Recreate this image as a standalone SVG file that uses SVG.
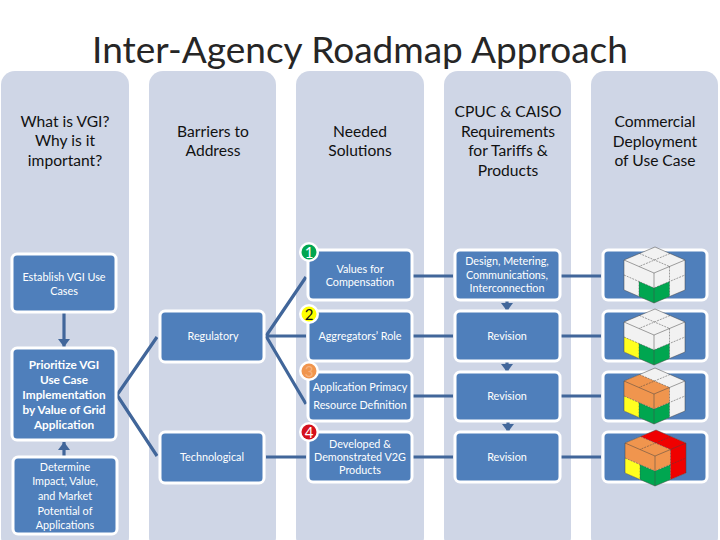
<svg xmlns="http://www.w3.org/2000/svg" xmlns:xlink="http://www.w3.org/1999/xlink" width="720" height="540" viewBox="0 0 720 540">
<style>
text{font-family:Lato,"Open Sans","Liberation Sans",sans-serif;text-anchor:middle}
.title{font-size:37px;fill:#262626}
.head{font-size:15.600px;fill:#111}
.panel{fill:#cfd6e6}
.box{fill:#4f7fbb;stroke:#fff;stroke-width:3}
.t{font-size:10.800px;fill:#fff}
.b{font-size:11.800px;font-weight:700;fill:#fff}
.c{stroke:#41669a;stroke-width:3.200;fill:none}
.w{fill:#f2f2f2}.g{fill:#00a650}.y{fill:#ffff20}.o{fill:#f0954e}.r{fill:#f00000}
.e{fill:none;stroke:#444;stroke-width:.5;stroke-dasharray:2 1}
.f{fill:none;stroke:#444;stroke-width:.5}
.ring{fill:#fff}
.n{font-size:15px}
</style>
<defs>
<marker id="ah" markerUnits="userSpaceOnUse" markerWidth="12" markerHeight="12" refX="8" refY="6" orient="auto"><path d="M0 0L8 6L0 12Z" fill="#41669a"/></marker>
<g id="cube">
<path class="f" d="M624 260L655 247L685 260V290L654 303L624 290ZM624 260L654 273L685 260M654 273V303"/>
<path class="e" d="M639.500 253.500L669.500 266.500M670 253.500L639 266.500M624 275L654 288L685 275M639 281.500V296.500M669.500 266.500V296.500"/>
</g>
</defs>
<rect width="720" height="540" fill="#fff"/>
<text class="title" x="360" y="63">Inter-Agency Roadmap Approach</text>
<g id="panels">
<rect class="panel" x="1" y="71" width="128" height="480" rx="14"/>
<rect class="panel" x="149" y="71" width="127" height="480" rx="14"/>
<rect class="panel" x="296" y="71" width="128" height="480" rx="14"/>
<rect class="panel" x="444" y="71" width="127" height="480" rx="14"/>
<rect class="panel" x="591" y="71" width="127" height="480" rx="14"/>
</g>
<g id="headers">
<text class="head"><tspan x="65" y="127">What is VGI?</tspan><tspan x="65" y="146">Why is it</tspan><tspan x="65" y="166">important?</tspan></text>
<text class="head"><tspan x="213" y="137">Barriers to</tspan><tspan x="213" y="156">Address</tspan></text>
<text class="head"><tspan x="360" y="137">Needed</tspan><tspan x="360" y="156">Solutions</tspan></text>
<text class="head"><tspan x="508" y="117">CPUC &amp; CAISO</tspan><tspan x="508" y="137">Requirements</tspan><tspan x="508" y="156">for Tariffs &amp;</tspan><tspan x="508" y="176">Products</tspan></text>
<text class="head"><tspan x="655" y="127">Commercial</tspan><tspan x="655" y="147">Deployment</tspan><tspan x="655" y="166">of Use Case</tspan></text>
</g>
<g id="connectors">
<path class="c" d="M117 395L157 337M117 395L157 456M266 336L306 277M266 336H306M266 336L306 404M266 457H306"/>
<path class="c" d="M412 276H453M412 336H453M412 396H453M412 457H453M560 276H601M560 336H601M560 396H601M560 457H601"/>
<path class="c" marker-end="url(#ah)" d="M64 313V347"/>
<path class="c" marker-end="url(#ah)" d="M64 456V442"/>
<path class="c" marker-end="url(#ah)" d="M507 301V311"/>
<path class="c" marker-end="url(#ah)" d="M507 361V372"/>
<path class="c" marker-end="url(#ah)" d="M508 421V432"/>
</g>
<g id="n-establish"><rect class="box" x="12" y="254" width="104" height="58" rx="5"/><text class="t"><tspan x="64" y="281">Establish VGI Use</tspan><tspan x="64" y="295">Cases</tspan></text></g>
<g id="n-prioritize"><rect class="box" x="12" y="348" width="104" height="92" rx="5"/><text class="b"><tspan x="64" y="369">Prioritize VGI</tspan><tspan x="64" y="384">Use Case</tspan><tspan x="64" y="399">Implementation</tspan><tspan x="64" y="414">by Value of Grid</tspan><tspan x="64" y="429">Application</tspan></text></g>
<g id="n-determine"><rect class="box" x="13" y="457" width="104" height="77" rx="5"/><text class="t"><tspan x="65" y="471">Determine</tspan><tspan x="65" y="485">Impact, Value,</tspan><tspan x="65" y="500">and Market</tspan><tspan x="65" y="515">Potential of</tspan><tspan x="65" y="529">Applications</tspan></text></g>
<g id="n-regulatory"><rect class="box" x="160" y="311" width="104" height="51" rx="5"/><text class="t" x="213" y="340">Regulatory</text></g>
<g id="n-technological"><rect class="box" x="160" y="432" width="104" height="51" rx="5"/><text class="t" x="212" y="461">Technological</text></g>
<g id="n-values"><rect class="box" x="308" y="250" width="104" height="50" rx="5"/><text class="t"><tspan x="360" y="273">Values for</tspan><tspan x="360" y="286">Compensation</tspan></text></g>
<g id="n-aggregators"><rect class="box" x="308" y="311" width="104" height="50" rx="5"/><text class="t" x="360" y="340">Aggregators’ Role</text></g>
<g id="n-application"><rect class="box" x="308" y="372" width="104" height="49" rx="5"/><text class="t"><tspan x="360" y="391">Application Primacy</tspan><tspan x="360" y="409">Resource Definition</tspan></text></g>
<g id="n-developed"><rect class="box" x="308" y="432" width="104" height="50" rx="5"/><text class="t"><tspan x="360" y="448">Developed  &amp;</tspan><tspan x="360" y="461">Demonstrated V2G</tspan><tspan x="360" y="474">Products</tspan></text></g>
<g id="n-design"><rect class="box" x="455" y="250" width="105" height="50" rx="5"/><text class="t"><tspan x="507" y="265">Design, Metering,</tspan><tspan x="507" y="279">Communications,</tspan><tspan x="507" y="292">Interconnection</tspan></text></g>
<g id="n-rev1"><rect class="box" x="455" y="311" width="105" height="50" rx="5"/><text class="t" x="507" y="340">Revision</text></g>
<g id="n-rev2"><rect class="box" x="455" y="372" width="105" height="49" rx="5"/><text class="t" x="507" y="400">Revision</text></g>
<g id="n-rev3"><rect class="box" x="455" y="432" width="105" height="50" rx="5"/><text class="t" x="507" y="461">Revision</text></g>
<g id="n-cube1"><rect class="box" x="603" y="250" width="104" height="50" rx="5"/>
<path class="w" d="M624 260L655 247L685 260V290L654 303L624 290Z"/>
<path class="g" d="M639 281.500L654 288L669.500 281.500V296.500L654 303L639 296.500Z"/>
<use xlink:href="#cube"/></g>
<g id="n-cube2"><rect class="box" x="603" y="311" width="104" height="50" rx="5"/>
<g transform="translate(0 62)"><path class="w" d="M624 260L655 247L685 260V290L654 303L624 290Z"/>
<path class="g" d="M639 281.500L654 288L669.500 281.500V296.500L654 303L639 296.500Z"/>
<path class="y" d="M624 275L639 281.500V296.500L624 290Z"/>
<use xlink:href="#cube"/></g></g>
<g id="n-cube3"><rect class="box" x="603" y="372" width="104" height="49" rx="5"/>
<g transform="translate(0 121)"><path class="w" d="M624 260L655 247L685 260V290L654 303L624 290Z"/>
<path class="g" d="M639 281.500L654 288L669.500 281.500V296.500L654 303L639 296.500Z"/>
<path class="y" d="M624 275L639 281.500V296.500L624 290Z"/>
<path class="o" d="M624 260L639.500 253.500L669.500 266.500V281.500L654 288L624 275Z"/>
<use xlink:href="#cube"/></g></g>
<g id="n-cube4"><rect class="box" x="603" y="432" width="104" height="50" rx="5"/>
<g transform="translate(1 183)"><path class="w" d="M624 260L655 247L685 260V290L654 303L624 290Z"/>
<path class="g" d="M639 281.500L654 288L669.500 281.500V296.500L654 303L639 296.500Z"/>
<path class="y" d="M624 275L639 281.500V296.500L624 290Z"/>
<path class="o" d="M624 260L639.500 253.500L669.500 266.500V281.500L654 288L624 275Z"/>
<path class="r" d="M639.500 253.500L655 247L685 260V290L669.500 296.500V266.500Z"/>
<use xlink:href="#cube"/></g></g>
<g id="badge1"><circle class="ring" cx="309" cy="252" r="10"/><circle cx="309" cy="252" r="7.500" fill="#00a650"/><text class="n" x="309" y="257.500" fill="#fff">1</text></g>
<g id="badge2"><circle class="ring" cx="309" cy="314" r="10"/><circle cx="309" cy="314" r="7.500" fill="#ffff00"/><text class="n" x="309" y="319.500" fill="#111">2</text></g>
<g id="badge3"><circle class="ring" cx="309" cy="371" r="10"/><circle cx="309" cy="371" r="7.500" fill="#f0954e"/><text class="n" x="309" y="376.500" fill="#f6b27e">3</text></g>
<g id="badge4"><circle class="ring" cx="309" cy="432" r="10"/><circle cx="309" cy="432" r="7.500" fill="#d5101c"/><text class="n" x="309" y="437.500" fill="#fff">4</text></g>
</svg>
